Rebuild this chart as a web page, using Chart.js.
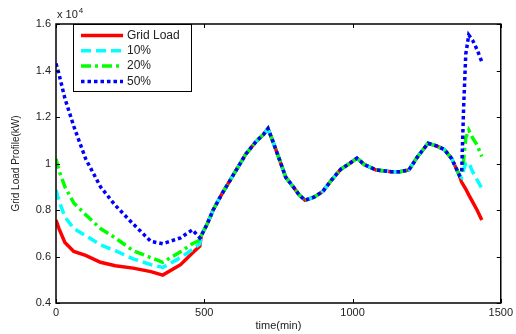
<!DOCTYPE html>
<html>
<head>
<meta charset="utf-8">
<script src="https://cdn.jsdelivr.net/npm/chart.js@4.4.1/dist/chart.umd.min.js"></script>
<style>
    html, body { margin: 0; padding: 0; background: #fff; }
    #wrap { width: 516px; height: 334px; }
</style>
</head>
<body>
<div id="wrap"><canvas id="gridChart" width="516" height="334"></canvas></div>
<script>
// Grid load profile data (values in units of 10^4 kW)
const seriesNames = ['Grid Load', '10%', '20%', '50%'];

// morning part, where the curves differ
const headTimes = [0, 10, 30, 60, 100, 150, 200, 260, 320, 360, 420, 460, 485];
const gridHead = [0.757, 0.72, 0.66, 0.622, 0.605, 0.575, 0.56, 0.55, 0.535, 0.52, 0.565, 0.615, 0.645];
const pct10Head = [0.886, 0.84, 0.77, 0.72, 0.69, 0.65, 0.625, 0.59, 0.565, 0.553, 0.595, 0.63, 0.655];
const pct20Head = [1.02, 0.97, 0.9, 0.83, 0.78, 0.72, 0.68, 0.625, 0.595, 0.575, 0.62, 0.655, 0.67];
const pct50Head = [1.43, 1.385, 1.28, 1.16, 1.02, 0.9, 0.82, 0.74, 0.665, 0.655, 0.68, 0.715, 0.68];

// day part, all curves are the same
const midTimes = [490, 510, 530, 560, 600, 640, 675, 700, 715, 730, 750, 775, 800, 820, 840, 870, 900, 930, 960, 990, 1015, 1040, 1080, 1130, 1160, 1190, 1220, 1255, 1285, 1310, 1335, 1360];
const midLoad = [0.69, 0.74, 0.8, 0.87, 0.955, 1.04, 1.095, 1.125, 1.15, 1.1, 1.03, 0.94, 0.9, 0.865, 0.842, 0.855, 0.88, 0.93, 0.975, 1.0, 1.023, 0.995, 0.972, 0.965, 0.965, 0.972, 1.03, 1.087, 1.075, 1.06, 1.02, 0.95];

// evening part
const tailTimes = [1368, 1375, 1382, 1392, 1405, 1420, 1436];
const gridTail = [0.92, 0.905, 0.89, 0.865, 0.835, 0.8, 0.757];
const pct10Tail = [0.94, 0.975, 1.0, 1.005, 0.965, 0.93, 0.894];
const pct20Tail = [0.95, 1.02, 1.11, 1.144, 1.11, 1.08, 1.03];
const pct50Tail = [0.96, 1.25, 1.47, 1.553, 1.53, 1.49, 1.438];

const xTicks = [0, 500, 1000, 1500];
const yTicks = [0.4, 0.6, 0.8, 1.0, 1.2, 1.4, 1.6];

const FONT = "'Liberation Sans', Arial, sans-serif";

// join head + shared middle + tail into {x, y} points
function buildSeries(head, tail) {
    const times = headTimes.concat(midTimes, tailTimes);
    const values = head.concat(midLoad, tail);
    return times.map((t, i) => ({ x: t, y: values[i] }));
}

const styles = [
    { color: '#ff0000', dash: [], width: 3.5 },
    { color: '#00ffff', dash: [10, 5], width: 3.5 },
    { color: '#00ff00', dash: [10, 4, 3, 4], width: 3.5 },
    { color: '#0000ff', dash: [3.5, 3], width: 3.5 }
];

const seriesData = [
    buildSeries(gridHead, gridTail),
    buildSeries(pct10Head, pct10Tail),
    buildSeries(pct20Head, pct20Tail),
    buildSeries(pct50Head, pct50Tail)
];

// box, inward ticks, exponent label and legend like the matlab figure
const matlabFrame = {
    id: 'matlabFrame',
    afterDraw(chart) {
        const ctx = chart.ctx;
        const area = chart.chartArea;
        const xs = chart.scales.x;
        const ys = chart.scales.y;
        ctx.save();

        // ticks pointing inside, on all four sides
        ctx.strokeStyle = '#000';
        ctx.lineWidth = 1;
        ctx.beginPath();
        xTicks.forEach(v => {
            const px = Math.round(xs.getPixelForValue(v)) + 0.5;
            ctx.moveTo(px, area.bottom);
            ctx.lineTo(px, area.bottom - 4);
            ctx.moveTo(px, area.top);
            ctx.lineTo(px, area.top + 4);
        });
        yTicks.forEach(v => {
            const py = Math.round(ys.getPixelForValue(v)) + 0.5;
            ctx.moveTo(area.left, py);
            ctx.lineTo(area.left + 4, py);
            ctx.moveTo(area.right, py);
            ctx.lineTo(area.right - 4, py);
        });
        ctx.stroke();

        // axes box
        ctx.lineWidth = 1.5;
        ctx.strokeRect(area.left, area.top, area.right - area.left, area.bottom - area.top);

        // x 10^4 exponent
        ctx.fillStyle = '#222';
        ctx.textBaseline = 'alphabetic';
        ctx.textAlign = 'left';
        ctx.font = '11px ' + FONT;
        ctx.fillText('x 10', area.left + 1, 18);
        const w = ctx.measureText('x 10').width;
        ctx.font = '8px ' + FONT;
        ctx.fillText('4', area.left + 2 + w, 13);

        // legend
        const lx = 73, ly = 24, lw = 118, lh = 67;
        ctx.fillStyle = '#fff';
        ctx.fillRect(lx, ly, lw, lh);
        ctx.lineWidth = 1;
        ctx.strokeStyle = '#000';
        ctx.strokeRect(lx + 0.5, ly + 0.5, lw, lh);
        ctx.font = '12px ' + FONT;
        ctx.textBaseline = 'middle';
        seriesNames.forEach((name, i) => {
            const rowY = 35.5 + i * 15.3;
            const st = styles[i];
            ctx.beginPath();
            ctx.strokeStyle = st.color;
            ctx.lineWidth = st.width;
            ctx.lineCap = 'butt';
            ctx.setLineDash(st.dash);
            ctx.moveTo(81, rowY);
            ctx.lineTo(123, rowY);
            ctx.stroke();
            ctx.setLineDash([]);
            ctx.fillStyle = '#222';
            ctx.fillText(name, 127, rowY);
        });
        ctx.restore();
    }
};

new Chart(document.getElementById('gridChart'), {
    type: 'line',
    data: {
        datasets: seriesNames.map((name, i) => ({
            label: name,
            data: seriesData[i],
            borderColor: styles[i].color,
            backgroundColor: styles[i].color,
            borderWidth: styles[i].width,
            borderDash: styles[i].dash,
            borderCapStyle: 'butt',
            pointRadius: 0,
            tension: 0,
            fill: false,
            order: 4 - i
        }))
    },
    options: {
        responsive: false,
        animation: false,
        layout: { padding: { top: 24, right: 14, left: 0, bottom: 0 } },
        plugins: {
            legend: { display: false },
            tooltip: { enabled: false }
        },
        scales: {
            x: {
                type: 'linear',
                min: 0,
                max: 1500,
                afterFit: scale => { scale.height = 31; },
                afterBuildTicks: scale => { scale.ticks = xTicks.map(v => ({ value: v })); },
                grid: { display: false, drawTicks: false },
                border: { display: false },
                ticks: {
                    padding: 3,
                    maxRotation: 0,
                    color: '#222',
                    font: { family: FONT, size: 11 },
                    callback: v => String(v)
                },
                title: {
                    display: true,
                    text: 'time(min)',
                    color: '#222',
                    font: { family: FONT, size: 11 },
                    padding: { top: 0, bottom: 1 }
                }
            },
            y: {
                min: 0.4,
                max: 1.6,
                afterFit: scale => { scale.width = 56; },
                afterBuildTicks: scale => { scale.ticks = yTicks.map(v => ({ value: v })); },
                grid: { display: false, drawTicks: false },
                border: { display: false },
                ticks: {
                    padding: 5,
                    color: '#222',
                    font: { family: FONT, size: 11 },
                    callback: v => String(Number(v.toFixed(1)))
                },
                title: {
                    display: true,
                    text: 'Grid Load Profile(kW)',
                    color: '#222',
                    font: { family: FONT, size: 10 },
                    padding: { top: 10, bottom: 0 }
                }
            }
        }
    },
    plugins: [matlabFrame]
});
</script>
</body>
</html>
